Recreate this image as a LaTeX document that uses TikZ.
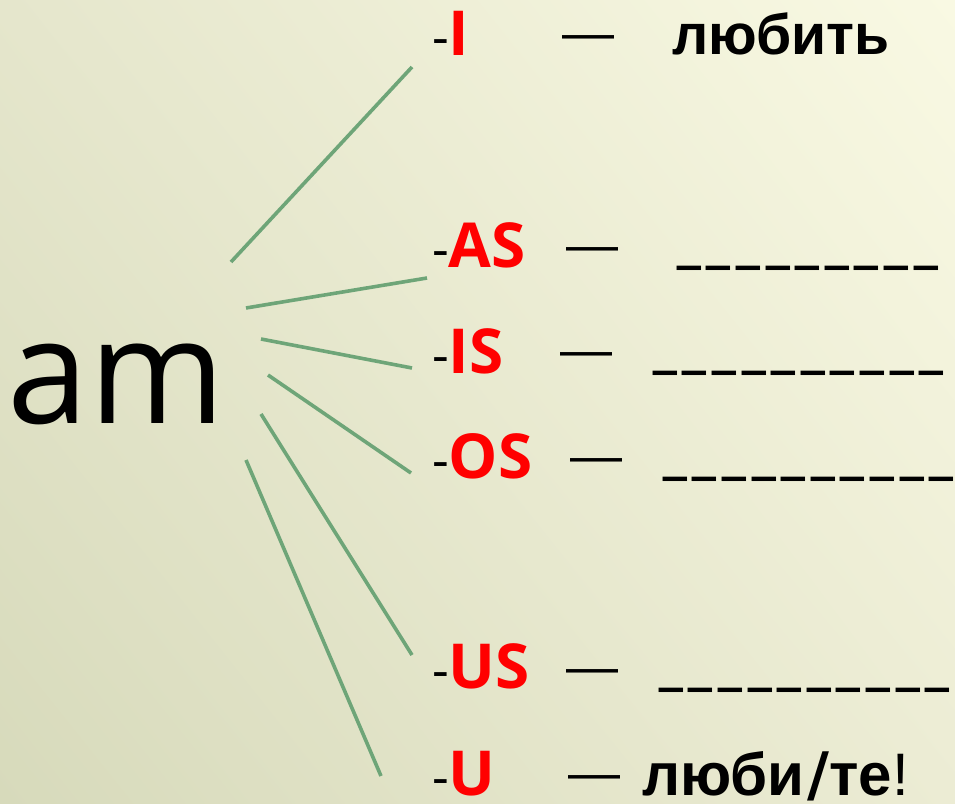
\documentclass[tikz,border=0pt]{standalone}
\usepackage{fontspec}
\usetikzlibrary{shadings}
\setmainfont{Liberation Sans}
\newfontfamily\stemfont{Open Sans}
\newfontfamily\endfont{Open Sans}
\newfontfamily\wordfont{Liberation Sans}
\newfontfamily\slashfont{DejaVu Sans}
\definecolor{bgtl}{RGB}{229,230,204}
\definecolor{bgtr}{RGB}{249,249,227}
\definecolor{bgbl}{RGB}{215,218,187}
\definecolor{bgbr}{RGB}{236,236,212}
\definecolor{branch}{RGB}{110,165,120}
\definecolor{endred}{RGB}{255,0,0}
% a row of heavy blank underscores with small gaps between them
\newcommand\blankrow[1]{\foreach \k in {1,...,#1}{\scalebox{0.37}[1]{\_}\kern6pt}}
\tikzset{
  every node/.style={inner sep=0pt, outer sep=0pt},
  branchline/.style={draw=branch, line width=3.6pt},
  ending/.style={anchor=base west, font=\endfont\bfseries\fontsize{62}{62}\selectfont},
  emdash/.style={anchor=north west, font=\wordfont\fontsize{52}{52}\selectfont},
  blanks/.style={anchor=south west, font=\wordfont\bfseries\fontsize{115}{115}\selectfont},
  word/.style={anchor=base west, font=\wordfont\bfseries\fontsize{57}{57}\selectfont},
}
\newcommand\hy{{\mdseries\fontsize{52}{52}\selectfont-}}
\begin{document}
\begin{tikzpicture}[x=1pt,y=-1pt]
\useasboundingbox (0,0) rectangle (955,803);
\shade[upper left=bgtl, upper right=bgtr, lower left=bgbl, lower right=bgbr]
  (0,0) rectangle (955,803);

% the stem
\node[anchor=base west, font=\stemfont\fontsize{146}{146}\selectfont] (stem) at (8,423) {am};

% the endings
\node[ending] (eI)  at (432,55)  {\hy\textcolor{endred}{I}};
\node[ending] (eAS) at (432,267) {\hy\textcolor{endred}{AS}};
\node[ending] (eIS) at (432,373) {\hy\textcolor{endred}{IS}};
\node[ending] (eOS) at (432,478) {\hy\textcolor{endred}{OS}};
\node[ending] (eUS) at (432,688) {\hy\textcolor{endred}{US}};
\node[ending] (eU)  at (432,795) {\hy\textcolor{endred}{U}};

% dashes
\node[emdash] (dI)  at (562,36)  {—};
\node[emdash] (dAS) at (566,248) {—};
\node[emdash] (dIS) at (560,353) {—};
\node[emdash] (dOS) at (570,459) {—};
\node[emdash] (dUS) at (566,670) {—};
\node[emdash] (dU)  at (568,776) {—};

% translations and blanks
\node[word] (tI) at (672,54) {любить};
\node[blanks] (bAS) at (677,271) {\blankrow{9}};
\node[blanks] (bIS) at (653,376) {\blankrow{10}};
\node[blanks] (bOS) at (663,482) {\blankrow{10}};
\node[blanks] (bUS) at (659,693) {\blankrow{10}};
\node[word, font=\wordfont\bfseries\fontsize{60}{60}\selectfont] (tU) at (642,795)
  {люби\kern3pt{\slashfont\bfseries /}\kern0pt те{\mdseries!}};

% branch end points
\coordinate (s1) at (231,262); \coordinate (f1) at (412,67);
\coordinate (s2) at (246,308); \coordinate (f2) at (427,278);
\coordinate (s3) at (261,339); \coordinate (f3) at (412,368);
\coordinate (s4) at (268,375); \coordinate (f4) at (411,473);
\coordinate (s5) at (261,414); \coordinate (f5) at (412,655);
\coordinate (s6) at (246,460); \coordinate (f6) at (381,776);

\foreach \i in {1,...,6}{\draw[branchline] (s\i) -- (f\i);}
\end{tikzpicture}
\end{document}
